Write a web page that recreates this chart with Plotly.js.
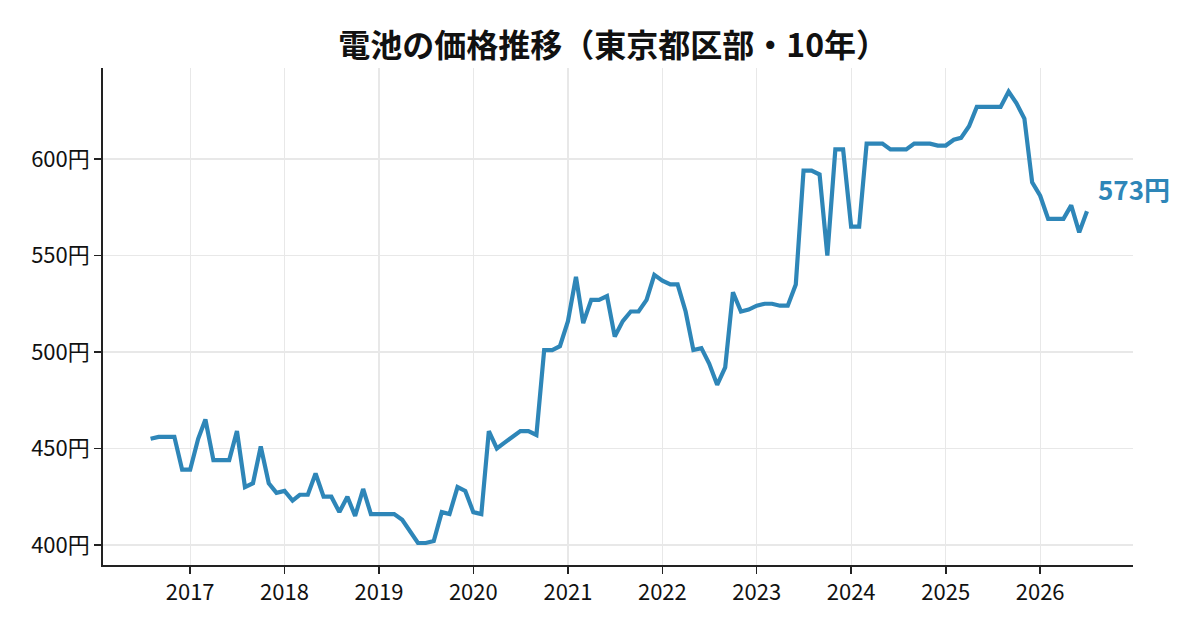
<!DOCTYPE html>
<html>
<head>
<meta charset="utf-8">
<script src="https://cdn.plot.ly/plotly-3.0.1.min.js"></script>
<style>
  html, body { margin: 0; padding: 0; background: #fff; }
  #chart { width: 1200px; height: 630px; }
</style>
</head>
<body>
<div id="chart"></div>
<script>
// monthly price, 2016-08 .. 2026-07 (yen)
var startYear = 2016, startMonth = 8;
var prices = [
  455, 456, 456, 456, 439, 439, 455, 465, 444, 444, 444, 459,
  430, 432, 451, 432, 427, 428, 423, 426, 426, 437, 425, 425,
  417, 425, 415, 429, 416, 416, 416, 416, 413, 407, 401, 401,
  402, 417, 416, 430, 428, 417, 416, 459, 450, 453, 456, 459,
  459, 457, 501, 501, 503, 516, 539, 515, 527, 527, 529, 508,
  516, 521, 521, 527, 540, 537, 535, 535, 521, 501, 502, 494,
  483, 492, 531, 521, 522, 524, 525, 525, 524, 524, 535, 594,
  594, 592, 550, 605, 605, 565, 565, 608, 608, 608, 605, 605,
  605, 608, 608, 608, 607, 607, 610, 611, 617, 627, 627, 627,
  627, 635, 629, 621, 588, 581, 569, 569, 569, 576, 562, 573
];
var yTicks = [400, 450, 500, 550, 600];
var xTicks = ['2017', '2018', '2019', '2020', '2021', '2022', '2023', '2024', '2025', '2026'];

var months = [];
for (var i = 0; i < prices.length; i++) {
  var m = startMonth - 1 + i;
  var y = startYear + Math.floor(m / 12);
  var mm = (m % 12) + 1;
  months.push(y + '-' + (mm < 10 ? '0' : '') + mm + '-01');
}

var lineColor = '#2e86b8';
var font = '"Noto Sans CJK JP", "Noto Sans", sans-serif';

var data = [{
  x: months,
  y: prices,
  type: 'scatter',
  mode: 'lines',
  line: { color: lineColor, width: 4.2 },
  hoverinfo: 'skip'
}];

var last = prices.length - 1;

var layout = {
  width: 1200,
  height: 630,
  paper_bgcolor: '#fff',
  plot_bgcolor: '#fff',
  margin: { l: 103, r: 67, t: 68, b: 65 },
  showlegend: false,
  font: { family: font, color: '#111', size: 22 },
  title: {
    text: '<b>電池の価格推移（東京都区部・10年）</b>',
    font: { family: font, size: 32, color: '#111' },
    x: 0.511, xanchor: 'center',
    y: 0.928, yanchor: 'middle'
  },
  xaxis: {
    type: 'date',
    range: ['2016-01-30', '2026-12-26'],
    tickvals: xTicks.map(function (t) { return t + '-01-01'; }),
    ticktext: xTicks,
    ticks: 'outside', ticklen: 7, tickwidth: 1.5, tickcolor: '#222',
    showline: true, linecolor: '#222', linewidth: 1.8,
    showgrid: true, gridcolor: '#e8e8e8', gridwidth: 1.2,
    zeroline: false,
    tickfont: { family: font, size: 22, color: '#111' }
  },
  yaxis: {
    range: [389.6, 647.2],
    tickvals: yTicks,
    ticktext: yTicks.map(function (v) { return v + '円'; }),
    ticks: 'outside', ticklen: 7, tickwidth: 1.5, tickcolor: '#222',
    showline: true, linecolor: '#222', linewidth: 1.8,
    showgrid: true, gridcolor: '#e8e8e8', gridwidth: 1.2,
    zeroline: false,
    tickfont: { family: font, size: 22, color: '#111' }
  },
  annotations: [{
    x: months[last],
    y: prices[last],
    xref: 'x', yref: 'y',
    text: '<b>' + prices[last] + '円</b>',
    showarrow: false,
    xanchor: 'left', yanchor: 'middle',
    xshift: 9, yshift: 23,
    font: { family: font, size: 26, color: lineColor }
  }]
};

Plotly.newPlot('chart', data, layout, { staticPlot: true, displayModeBar: false });
</script>
</body>
</html>
